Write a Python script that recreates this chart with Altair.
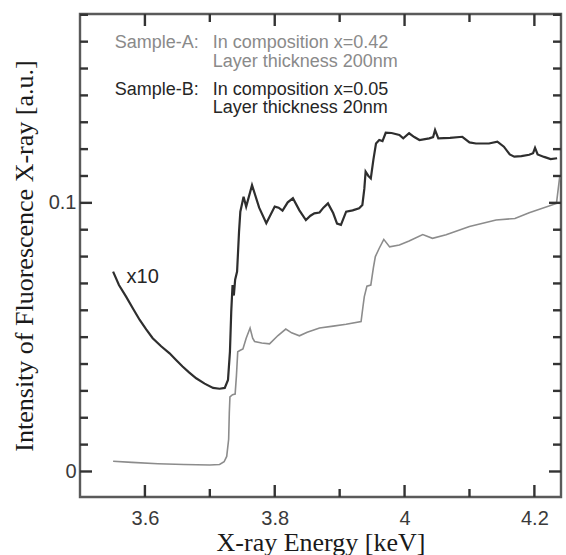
import altair as alt
import pandas as pd

# Sample-A (In x=0.42, 200 nm layer), raw intensity
a_energy = [3.551, 3.58, 3.62, 3.66, 3.70, 3.715, 3.722, 3.726, 3.729, 3.730, 3.731,
            3.735, 3.739, 3.741, 3.743, 3.747, 3.751, 3.756, 3.762, 3.766, 3.769, 3.78,
            3.792, 3.805, 3.817, 3.826, 3.838, 3.85, 3.869, 3.89, 3.91, 3.933, 3.936,
            3.938, 3.942, 3.948, 3.952, 3.955, 3.961, 3.968, 3.977, 3.992, 4.007, 4.028,
            4.043, 4.064, 4.1, 4.141, 4.17, 4.192, 4.234, 4.239]
a_intensity = [0.0038, 0.0034, 0.0029, 0.0026, 0.0024, 0.0026, 0.0036, 0.0056, 0.012, 0.0218, 0.0278,
               0.0286, 0.0288, 0.0357, 0.0446, 0.0451, 0.0456, 0.0496, 0.0534, 0.0496, 0.0484, 0.0478,
               0.0475, 0.0506, 0.053, 0.0516, 0.0505, 0.0518, 0.0534, 0.0541, 0.0548, 0.0558, 0.0615,
               0.0651, 0.069, 0.0694, 0.0759, 0.08, 0.0831, 0.0864, 0.0836, 0.0843, 0.0858, 0.0882,
               0.0868, 0.0881, 0.0912, 0.0936, 0.0942, 0.0963, 0.0998, 0.1097]

# Sample-B (In x=0.05, 20 nm layer), intensity multiplied by 10
b_energy = [3.551, 3.56, 3.571, 3.582, 3.592, 3.602, 3.612, 3.625, 3.638, 3.648, 3.658,
            3.668, 3.679, 3.692, 3.705, 3.715, 3.723, 3.728, 3.731, 3.733, 3.735, 3.737,
            3.739, 3.742, 3.745, 3.747, 3.752, 3.756, 3.765, 3.776, 3.787, 3.8, 3.806,
            3.812, 3.82, 3.828, 3.838, 3.848, 3.855, 3.861, 3.869, 3.875, 3.882, 3.89,
            3.896, 3.902, 3.91, 3.92, 3.93, 3.935, 3.938, 3.94, 3.944, 3.948, 3.952,
            3.956, 3.961, 3.966, 3.971, 3.98, 3.992, 3.998, 4.007, 4.015, 4.023, 4.038,
            4.044, 4.047, 4.052, 4.07, 4.089, 4.1, 4.11, 4.13, 4.143, 4.153, 4.162,
            4.169, 4.18, 4.192, 4.198, 4.201, 4.205, 4.215, 4.225, 4.235]
b_intensity = [0.0744, 0.0694, 0.0651, 0.0605, 0.0564, 0.0529, 0.0496, 0.0466, 0.0440, 0.0415, 0.0391,
               0.0369, 0.0347, 0.0327, 0.0311, 0.0308, 0.0311, 0.0341, 0.0446, 0.0595, 0.0694, 0.0655,
               0.0714, 0.0744, 0.0893, 0.0967, 0.1023, 0.0986, 0.1066, 0.0982, 0.0924, 0.0986, 0.0982,
               0.0971, 0.1002, 0.1017, 0.0972, 0.0936, 0.0952, 0.0961, 0.0964, 0.0982, 0.0998, 0.0962,
               0.0923, 0.0918, 0.0967, 0.0972, 0.098, 0.0992, 0.1052, 0.1116, 0.1101, 0.1091, 0.1161,
               0.1221, 0.1234, 0.123, 0.1261, 0.126, 0.1253, 0.124, 0.1259, 0.1245, 0.1234, 0.124,
               0.1245, 0.1271, 0.124, 0.1242, 0.1246, 0.1225, 0.1221, 0.1221, 0.1228, 0.1209, 0.118,
               0.1172, 0.1174, 0.1179, 0.1185, 0.1205, 0.118, 0.1171, 0.1163, 0.1166]

x_major = [3.6, 3.8, 4.0, 4.2]
x_minor = [3.7, 3.9, 4.1]
y_major = [0.0, 0.1]
y_minor = [0.01, 0.02, 0.03, 0.04, 0.05, 0.06, 0.07, 0.08, 0.09,
           0.11, 0.12, 0.13, 0.14, 0.15, 0.16, 0.17]

notes = [
    {"label": "Sample-A:", "ex": 3.5534, "iy": 0.1594, "shade": "A"},
    {"label": "In composition x=0.42", "ex": 3.7044, "iy": 0.1594, "shade": "A"},
    {"label": "Layer thickness 200nm", "ex": 3.7044, "iy": 0.1525, "shade": "A"},
    {"label": "Sample-B:", "ex": 3.5534, "iy": 0.1420, "shade": "B"},
    {"label": "In composition x=0.05", "ex": 3.7044, "iy": 0.1420, "shade": "B"},
    {"label": "Layer thickness 20nm", "ex": 3.7044, "iy": 0.1352, "shade": "B"},
]
scale_note = [{"label": "x10", "ex": 3.5718, "iy": 0.0724}]

X_LO, X_HI = 3.5, 4.241
Y_LO, Y_HI = -0.0095, 0.1703
W, H = 481, 483
GRAY = "#8c8c8c"
DARK = "#2e2e2e"
FRAME = "#5a5a5a"
TICK = "#333333"

xs = alt.Scale(domain=[X_LO, X_HI], nice=False, zero=False)
ys = alt.Scale(domain=[Y_LO, Y_HI], nice=False, zero=False)

df_a = pd.DataFrame({"energy": a_energy, "intensity": a_intensity})
df_b = pd.DataFrame({"energy": b_energy, "intensity": b_intensity})

# Inward tick marks: each tick is a short two-point path starting at the frame
# (lengths in pixels, converted to data units).
PX_Y = (Y_HI - Y_LO) / H
PX_X = (X_HI - X_LO) / W
pts = []
k = 0
for vals, n in ((x_major, 12), (x_minor, 8)):
    for v in vals:
        for edge, sign in ((Y_LO, 1), (Y_HI, -1)):
            pts.append({"seg": k, "tx": v, "ty": edge})
            pts.append({"seg": k, "tx": v, "ty": edge + sign * n * PX_Y})
            k += 1
for vals, n in ((y_major, 12), (y_minor, 8)):
    for v in vals:
        for edge, sign in ((X_LO, 1), (X_HI, -1)):
            pts.append({"seg": k, "tx": edge, "ty": v})
            pts.append({"seg": k, "tx": edge + sign * n * PX_X, "ty": v})
            k += 1
df_ticks = pd.DataFrame(pts)

x_axis = alt.Axis(values=x_major, format=".1~f", tickSize=0, domain=False, grid=False,
                  labelFont="Liberation Sans", labelFontSize=20, labelColor="#3a3a3a",
                  labelPadding=11, title="X-ray Energy [keV]", titleFont="Liberation Serif",
                  titleFontSize=26, titleFontWeight="normal", titleColor="#1a1a1a",
                  titleX=W / 2, titleY=45, titleBaseline="middle", titleAlign="center")
y_axis = alt.Axis(values=y_major, format=".1~f", tickSize=0, domain=False, grid=False,
                  labelFont="Liberation Sans", labelFontSize=20, labelColor="#3a3a3a",
                  labelPadding=4, title="Intensity of Fluorescence X-ray [a.u.]",
                  titleFont="Liberation Serif", titleFontSize=26, titleFontWeight="normal",
                  titleColor="#1a1a1a", titleX=-56, titleY=H / 2, titleAngle=-90,
                  titleBaseline="middle", titleAlign="center")

line_a = alt.Chart(df_a).mark_line(color=GRAY, strokeWidth=1.6).encode(
    x=alt.X("energy:Q", scale=xs, axis=x_axis),
    y=alt.Y("intensity:Q", scale=ys, axis=y_axis),
)
line_b = alt.Chart(df_b).mark_line(color=DARK, strokeWidth=2.2).encode(
    x=alt.X("energy:Q", scale=xs),
    y=alt.Y("intensity:Q", scale=ys),
)

ticks = alt.Chart(df_ticks).mark_line(color=TICK, strokeWidth=2.4).encode(
    x=alt.X("tx:Q", scale=xs),
    y=alt.Y("ty:Q", scale=ys),
    detail="seg:N",
)

labels = alt.Chart(pd.DataFrame(notes)).mark_text(
    align="left", baseline="middle", font="Liberation Sans", fontSize=18
).encode(
    x=alt.X("ex:Q", scale=xs),
    y=alt.Y("iy:Q", scale=ys),
    text="label:N",
    color=alt.Color("shade:N", scale=alt.Scale(domain=["A", "B"], range=["#8a8a8a", "#262626"]),
                    legend=None),
)
x10 = alt.Chart(pd.DataFrame(scale_note)).mark_text(
    align="left", baseline="middle", font="Liberation Sans", fontSize=20, color="#262626"
).encode(
    x=alt.X("ex:Q", scale=xs),
    y=alt.Y("iy:Q", scale=ys),
    text="label:N",
)

chart = alt.layer(line_a, line_b, labels, x10, ticks).properties(
    width=W, height=H,
    autosize=alt.AutoSizeParams(type="none"),
    padding={"left": 80, "top": 14, "right": 5, "bottom": 58},
    background="white",
).configure_view(stroke=FRAME, strokeWidth=2.4)

chart.save("out.html", embed_options={"renderer": "svg", "actions": False})
